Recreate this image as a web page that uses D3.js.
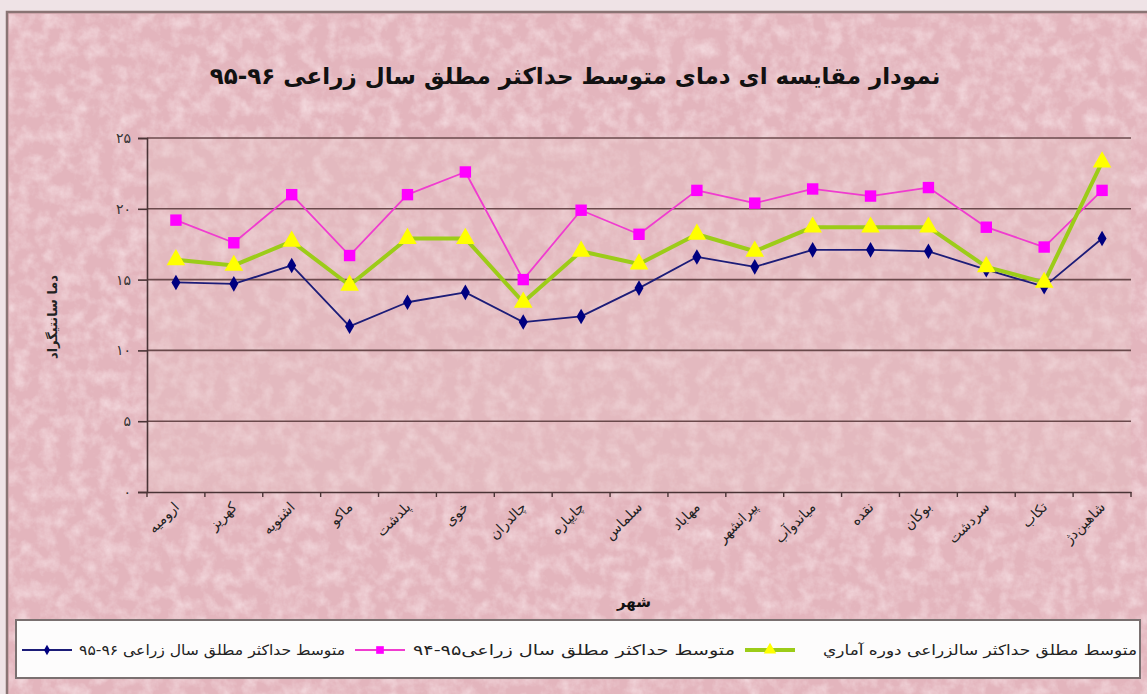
<!DOCTYPE html>
<html>
<head>
<meta charset="utf-8">
<script src="https://cdn.jsdelivr.net/npm/d3@7"></script>
<style>
  html, body { margin: 0; padding: 0; background: #efe3e6; }
  svg { display: block; }
  text { font-family: "DejaVu Sans", sans-serif; }
</style>
</head>
<body>
<div class="chart"></div>
<script>
// cities (x axis)
const cities = ["ارومیه", "کهریز", "اشنویه", "ماکو", "پلدشت", "خوی", "چالدران", "چایپاره", "سلماس",
                "مهاباد", "پیرانشهر", "میاندوآب", "نقده", "بوکان", "سردشت", "تکاب", "شاهین‌دژ"];

// series values
const year9695 = [14.8, 14.7, 16.0, 11.7, 13.4, 14.1, 12.0, 12.4, 14.4, 16.6, 15.9, 17.1, 17.1, 17.0, 15.7, 14.5, 17.9];
const year9594 = [19.2, 17.6, 21.0, 16.7, 21.0, 22.6, 15.0, 19.9, 18.2, 21.3, 20.4, 21.4, 20.9, 21.5, 18.7, 17.3, 21.3];
const longTerm = [16.4, 16.0, 17.7, 14.6, 17.9, 17.9, 13.4, 17.0, 16.1, 18.2, 17.0, 18.7, 18.7, 18.7, 15.9, 14.8, 23.3];

const yTicks = [0, 5, 10, 15, 20, 25];

const titleText = "نمودار مقایسه ای دمای متوسط حداکثر مطلق سال زراعی ۹۶-۹۵";
const yTitle = "دما سانتیگراد";
const xTitle = "شهر";
const legendNames = ["متوسط حداکثر مطلق سال زراعی ۹۶-۹۵", "متوسط حداکثر مطلق سال زراعی۹۵-۹۴", "متوسط مطلق حداکثر سالزراعی دوره آماري"];

const fa = v => String(v).replace(/\d/g, c => "۰۱۲۳۴۵۶۷۸۹"[c]);

const width = 1147, height = 694;
const svg = d3.select(".chart").append("svg")
    .attr("width", width).attr("height", height)
    .attr("viewBox", [0, 0, width, height]);

// granite texture
const defs = svg.append("defs");
const f = defs.append("filter").attr("id", "grain")
    .attr("x", 0).attr("y", 0).attr("width", "100%").attr("height", "100%");
f.append("feTurbulence").attr("type", "fractalNoise").attr("baseFrequency", 0.07)
    .attr("numOctaves", 4).attr("seed", 3).attr("result", "noise");
f.append("feColorMatrix").attr("in", "noise").attr("type", "matrix")
    .attr("values", "0 0 0 0 0.98  0 0 0 0 0.86  0 0 0 0 0.88  1.1 0 0 0 -0.42");

const chartArea = {x: 7, y: 12, w: 1150, h: 690};
svg.append("rect").attr("x", chartArea.x).attr("y", chartArea.y)
    .attr("width", chartArea.w).attr("height", chartArea.h)
    .attr("fill", "#e3b5bd").attr("stroke", "#8a7474").attr("stroke-width", 2.5);
svg.append("rect").attr("x", chartArea.x + 2).attr("y", chartArea.y + 2)
    .attr("width", chartArea.w).attr("height", chartArea.h)
    .attr("fill", "#fff").attr("filter", "url(#grain)");

const margin = {left: 147, right: 1131, top: 138, bottom: 492};

const x = d3.scaleBand().domain(cities).range([margin.left, margin.right]);
const y = d3.scaleLinear().domain([0, 25]).range([margin.bottom, margin.top]);

// plot area, slightly greyer
svg.append("rect").attr("x", margin.left).attr("y", margin.top)
    .attr("width", margin.right - margin.left).attr("height", margin.bottom - margin.top)
    .attr("fill", "#e6c4c4").attr("opacity", 0.3);

// gridlines
svg.append("g")
    .selectAll("line")
    .data(yTicks.filter(d => d > 0))
    .join("line")
    .attr("x1", margin.left).attr("x2", margin.right)
    .attr("y1", d => y(d)).attr("y2", d => y(d))
    .attr("stroke", "#6b4a4c").attr("stroke-width", 1.6);

// y axis
const yAxis = svg.append("g")
    .attr("transform", `translate(${margin.left},0)`)
    .call(d3.axisLeft(y).tickValues(yTicks).tickSize(9).tickPadding(7).tickFormat(fa));
yAxis.select(".domain").attr("stroke", "#4a3436").attr("stroke-width", 1.6);
yAxis.selectAll(".tick line").attr("stroke", "#4a3436").attr("stroke-width", 1.6);
yAxis.selectAll("text").attr("font-size", 14).attr("fill", "#333");

// x axis
const xAxis = svg.append("g")
    .attr("transform", `translate(0,${margin.bottom})`)
    .call(d3.axisBottom(x).tickSize(0).tickFormat(""));
xAxis.select(".domain").attr("stroke", "#4a3436").attr("stroke-width", 1.6);
xAxis.append("g").selectAll("line")
    .data(cities)
    .join("line")
    .attr("x1", d => x(d)).attr("x2", d => x(d))
    .attr("y1", 0).attr("y2", 5)
    .attr("stroke", "#4a3436").attr("stroke-width", 1.4);
xAxis.append("line")
    .attr("x1", margin.right).attr("x2", margin.right)
    .attr("y1", 0).attr("y2", 5)
    .attr("stroke", "#4a3436").attr("stroke-width", 1.4);

const cx = d => x(d) + x.bandwidth() / 2;

svg.append("g").selectAll("text")
    .data(cities)
    .join("text")
    .attr("transform", d => `translate(${cx(d) + 4},${margin.bottom + 16}) rotate(-45)`)
    .attr("text-anchor", "end")
    .attr("font-size", 14)
    .attr("fill", "#222")
    .text(d => d);

// titles
svg.append("text")
    .attr("x", 575).attr("y", 84)
    .attr("text-anchor", "middle")
    .attr("font-size", 23).attr("font-weight", "bold")
    .attr("fill", "#111")
    .text(titleText);

svg.append("text")
    .attr("transform", `translate(57,317) rotate(-90)`)
    .attr("text-anchor", "middle")
    .attr("font-size", 13).attr("font-weight", "bold")
    .attr("fill", "#222")
    .text(yTitle);

svg.append("text")
    .attr("x", 634).attr("y", 607)
    .attr("text-anchor", "middle")
    .attr("font-size", 15).attr("font-weight", "bold")
    .attr("fill", "#111")
    .text(xTitle);

// series
const series = [
    {name: legendNames[0], values: year9695, color: "#1c1c78", width: 1.8, marker: d3.symbolDiamond, msize: 70, mfill: "#000080"},
    {name: legendNames[1], values: year9594, color: "#f03ccf", width: 1.8, marker: d3.symbolSquare, msize: 130, mfill: "#ff00ff"},
    {name: legendNames[2], values: longTerm, color: "#9ccc18", width: 4, marker: d3.symbolTriangle, msize: 150, mfill: "#ffff00"}
];

const line = d3.line().x((d, i) => cx(cities[i])).y(d => y(d));

series.forEach(s => {
    const g = svg.append("g");
    g.append("path")
        .datum(s.values)
        .attr("d", line)
        .attr("fill", "none")
        .attr("stroke", s.color)
        .attr("stroke-width", s.width)
        .attr("stroke-linejoin", "round");
    g.selectAll("path.m")
        .data(s.values)
        .join("path")
        .attr("class", "m")
        .attr("d", d3.symbol(s.marker, s.msize))
        .attr("transform", (d, i) => `translate(${cx(cities[i])},${y(d)})`)
        .attr("fill", s.mfill);
});

// legend
const legend = svg.append("g");
legend.append("rect")
    .attr("x", 16).attr("y", 620).attr("width", 1124).attr("height", 58)
    .attr("fill", "#fdfcfc").attr("stroke", "#7a7070").attr("stroke-width", 2);

const legendItems = [
    {s: series[2], lx: 745, tx: 1137, tw: 314},
    {s: series[1], lx: 355, tx: 735, tw: 322},
    {s: series[0], lx: 22, tx: 345, tw: 266}
];
legendItems.forEach(it => {
    const ly = 650;
    legend.append("line")
        .attr("x1", it.lx).attr("x2", it.lx + 50)
        .attr("y1", ly).attr("y2", ly)
        .attr("stroke", it.s.color).attr("stroke-width", it.s.width);
    legend.append("path")
        .attr("d", d3.symbol(it.s.marker, it.s.msize * 0.45))
        .attr("transform", `translate(${it.lx + 25},${ly})`)
        .attr("fill", it.s.mfill);
    legend.append("text")
        .attr("x", it.tx - it.tw).attr("y", ly + 5)
        .attr("textLength", it.tw)
        .attr("lengthAdjust", "spacingAndGlyphs")
        .attr("font-size", 14)
        .attr("fill", "#222")
        .text(it.s.name);
});
</script>
</body>
</html>
